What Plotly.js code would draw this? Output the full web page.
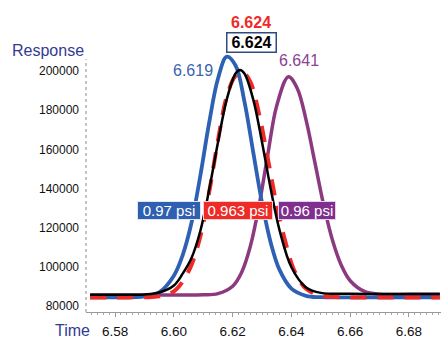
<!DOCTYPE html>
<html>
<head>
<meta charset="utf-8">
<script src="https://cdn.plot.ly/plotly-3.0.1.min.js"></script>
<style>
html,body{margin:0;padding:0;background:#fff;}
#chart{width:441px;height:338px;}
</style>
</head>
<body>
<div id="chart"></div>
<script>
// ---- data ----
const blueT = [6.5715, 6.580, 6.590, 6.595, 6.600, 6.603, 6.606, 6.609, 6.612, 6.615, 6.618, 6.621, 6.624, 6.627, 6.630, 6.633, 6.636, 6.640, 6.645, 6.650, 6.660, 6.670, 6.680, 6.6905];
const blueY = [84400, 84400, 84900, 87000, 95500, 106000, 122500, 146500, 173500, 196000, 207300, 202800, 184500, 158600, 132700, 112100, 98300, 88900, 85200, 84500, 84400, 84400, 84400, 84400];

const redT = [6.5715, 6.580, 6.590, 6.595, 6.600, 6.603, 6.606, 6.609, 6.612, 6.615, 6.618, 6.621, 6.6235, 6.626, 6.629, 6.632, 6.635, 6.638, 6.641, 6.645, 6.650, 6.655, 6.660, 6.670, 6.680, 6.6905];
const redY = [84400, 84400, 84500, 84900, 87500, 92500, 101000, 115500, 138000, 164500, 187000, 197500, 199200, 194500, 178000, 155000, 131500, 112500, 98000, 88800, 85300, 84600, 84400, 84400, 84400, 84400];

const blackT = [6.5715, 6.580, 6.590, 6.595, 6.600, 6.603, 6.606, 6.609, 6.612, 6.615, 6.618, 6.621, 6.6225, 6.624, 6.627, 6.630, 6.633, 6.636, 6.640, 6.645, 6.650, 6.660, 6.670, 6.680, 6.6905];
const blackY = [85700, 85700, 85900, 86900, 90500, 96500, 104500, 118300, 139300, 163500, 185500, 198700, 200500, 198700, 185500, 163600, 139400, 118500, 99800, 89500, 86700, 86200, 86100, 86100, 86100];

const purpleT = [6.5715, 6.600, 6.610, 6.615, 6.620, 6.623, 6.626, 6.629, 6.632, 6.635, 6.639, 6.642, 6.645, 6.648, 6.651, 6.654, 6.657, 6.660, 6.665, 6.670, 6.680, 6.6905];
const purpleY = [85600, 85600, 85700, 86300, 90100, 97000, 110400, 131400, 157700, 182300, 197100, 191100, 174900, 153200, 131400, 113400, 100700, 92900, 87300, 86000, 86000, 86000];

const peakLabels = ["6.619", "6.624", "6.624", "6.641"];
const psiLabels = ["0.97 psi", "0.963 psi", "0.96 psi"];
const yTicks = [80000, 100000, 120000, 140000, 160000, 180000, 200000];
const yTickText = ["80000", "100000", "120000", "140000", "160000", "180000", "200000"];
const xTicks = [6.58, 6.60, 6.62, 6.64, 6.66, 6.68];
const xTickText = ["6.58", "6.60", "6.62", "6.64", "6.66", "6.68"];

// ---- colours ----
const cBlue = '#2e60b4', cRed = '#ee2b27', cBlack = '#000000', cPurple = '#8c3a80';
const cTitle = '#333a92';
const FONT = 'Liberation Sans, Arial, sans-serif';

const traces = [
  {x: purpleT, y: purpleY, mode: 'lines', line: {color: cPurple, width: 3.5, shape: 'spline', smoothing: 1}},
  {x: blueT, y: blueY, mode: 'lines', line: {color: cBlue, width: 3.8, shape: 'spline', smoothing: 1}},
  {x: redT, y: redY, mode: 'lines', line: {color: cRed, width: 4, dash: '16px,11px', shape: 'spline', smoothing: 1}},
  {x: blackT, y: blackY, mode: 'lines', line: {color: cBlack, width: 2.5, shape: 'spline', smoothing: 1}}
];

const C = {xanchor: 'center', yanchor: 'middle', showarrow: false};
const annotations = [
  Object.assign({x: 6.6064, y: 200500, text: peakLabels[0], font: {family: FONT, size: 16, color: '#3a63b0'}}, C),
  Object.assign({x: 6.6261, y: 225000, text: '<b>' + peakLabels[1] + '</b>', font: {family: FONT, size: 16, color: cRed}}, C),
  Object.assign({x: 6.6263, y: 214300, text: '<b>' + peakLabels[2] + '</b>', font: {family: FONT, size: 16, color: '#000'},
   bgcolor: '#fff', bordercolor: '#2f4a7e', borderwidth: 1.5, borderpad: 1, width: 46, height: 16}, C),
  Object.assign({x: 6.6426, y: 205600, text: peakLabels[3], font: {family: FONT, size: 16, color: '#8c4191'}}, C),
  Object.assign({x: 6.5984, y: 129000, text: psiLabels[0], font: {family: FONT, size: 15, color: '#fff'},
   bgcolor: '#2f5fb0', bordercolor: '#dfe6f2', borderwidth: 1, borderpad: 0, width: 62, height: 17}, C),
  Object.assign({x: 6.6218, y: 129000, text: psiLabels[1], font: {family: FONT, size: 15, color: '#fff'},
   bgcolor: '#ee2b27', bordercolor: '#f6d0cc', borderwidth: 1, borderpad: 0, width: 68, height: 17}, C),
  Object.assign({x: 6.6453, y: 129000, text: psiLabels[2], font: {family: FONT, size: 15, color: '#fff'},
   bgcolor: '#7f2f8f', bordercolor: '#e2d2e6', borderwidth: 1, borderpad: 0, width: 56, height: 17}, C),
  Object.assign({xref: 'paper', yref: 'paper', x: -0.107, y: 0.897, text: 'Response',
   font: {family: FONT, size: 16, color: cTitle}}, C),
  Object.assign({xref: 'paper', yref: 'paper', x: -0.038, y: -0.062, text: 'Time',
   font: {family: FONT, size: 16, color: cTitle}}, C)
];

const layout = {
  width: 441, height: 338,
  margin: {l: 86, r: 0, t: 20, b: 26, pad: 0},
  paper_bgcolor: '#fff', plot_bgcolor: '#fff',
  showlegend: false,
  xaxis: {
    range: [6.5701, 6.6909], showgrid: false, zeroline: false,
    showline: true, linecolor: '#999', linewidth: 1,
    tickvals: xTicks, ticktext: xTickText,
    ticks: 'outside', ticklen: 4, tickcolor: '#999', tickwidth: 1,
    ticklabelstandoff: 3,
    minor: {dtick: 0.002, tick0: 6.58, ticks: 'outside', ticklen: 2, tickcolor: '#aaa', tickwidth: 1},
    tickfont: {family: FONT, size: 13.5, color: '#111'}
  },
  yaxis: {
    range: [76940, 226030], showgrid: false, zeroline: false, showline: false,
    tickvals: yTicks, ticktext: yTickText, ticks: '', ticklabelstandoff: 6,
    tickfont: {family: FONT, size: 12, color: '#111'}
  },
  shapes: [
    {type: 'line', xref: 'paper', yref: 'paper', x0: 0, x1: 0, y0: 0, y1: 0.866,
     line: {color: '#888', width: 1, dash: 'dot'}}
  ],
  annotations: annotations
};

Plotly.newPlot('chart', traces, layout, {staticPlot: true, displayModeBar: false});
</script>
</body>
</html>
